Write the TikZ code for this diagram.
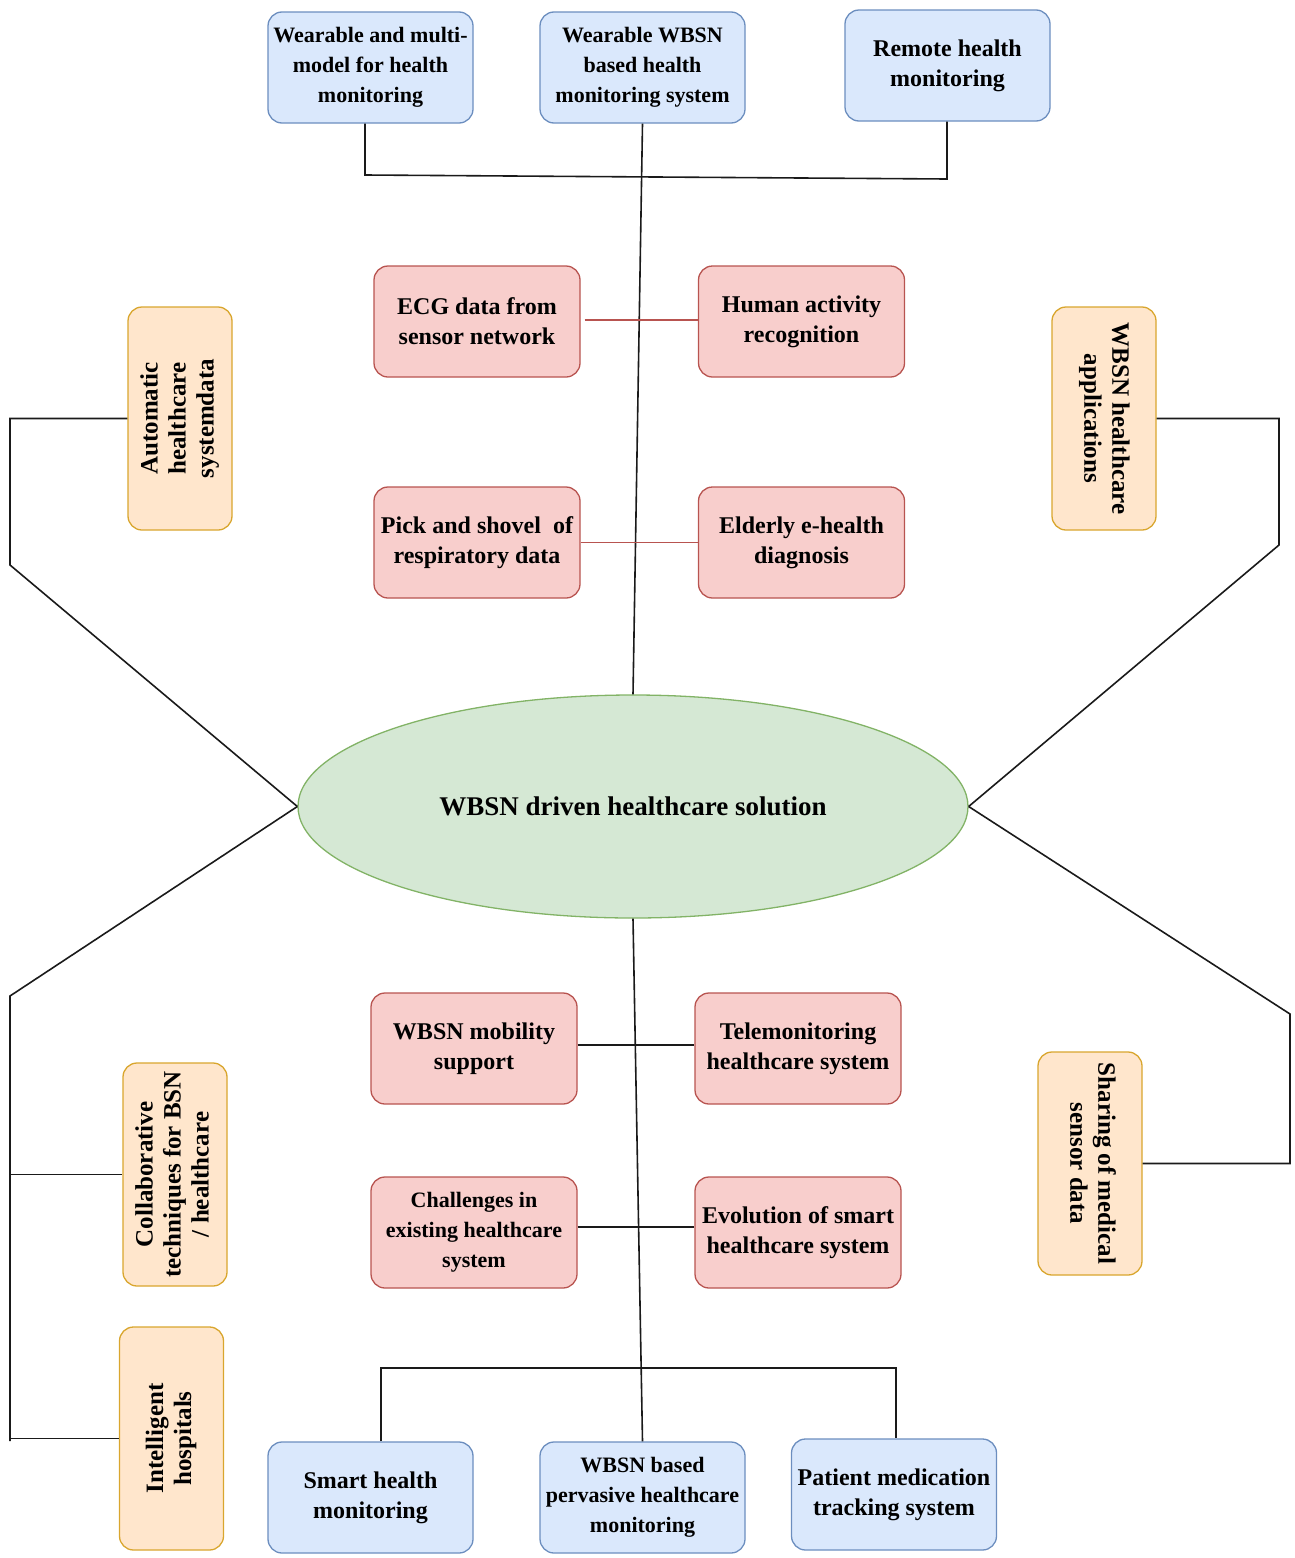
\documentclass[tikz,border=0pt]{standalone}
\usepackage{fontspec}
\setmainfont{Liberation Serif}
\usetikzlibrary{shapes.geometric}
\definecolor{bluefill}{HTML}{DAE8FC}
\definecolor{blueline}{HTML}{6C8EBF}
\definecolor{redfill}{HTML}{F8CECC}
\definecolor{redline}{HTML}{B85450}
\definecolor{orangefill}{HTML}{FFE6CC}
\definecolor{orangeline}{HTML}{D9A62E}
\definecolor{greenfill}{HTML}{D5E8D4}
\definecolor{greenline}{HTML}{82B366}
\definecolor{wire}{HTML}{1A1A1A}
\begin{document}
\begin{tikzpicture}[x=1pt,y=-1pt,
  box/.style={rectangle, rounded corners=14pt, line width=1.3pt, align=center,
    inner sep=2pt, font=\bfseries\fontsize{24}{30}\selectfont},
  smalltext/.style={font=\bfseries\fontsize{22}{30}\selectfont},
  bluebox/.style={box, draw=blueline, fill=bluefill, minimum width=205pt, minimum height=111pt},
  redbox/.style={box, draw=redline, fill=redfill, minimum width=206pt, minimum height=111pt},
  obox/.style={box, draw=orangeline, fill=orangefill, minimum width=104pt, minimum height=223pt,
    font=\bfseries\fontsize{25}{28}\selectfont},
  hub/.style={ellipse, draw=greenline, fill=greenfill, line width=1.3pt, minimum width=670pt,
    minimum height=223pt, inner sep=0pt, font=\bfseries\fontsize{27}{32}\selectfont},
  link/.style={draw=wire, line width=1.6pt},
  redlink/.style={draw=redline, line width=1.5pt}
]
\useasboundingbox (0,0) rectangle (1294,1558);

% top row
\node[bluebox, smalltext] (B1) at (370.5,67.5) {Wearable and multi-\\model for health\\monitoring};
\node[bluebox, smalltext] (B2) at (642.5,67.5) {Wearable WBSN\\based health\\monitoring system};
\node[bluebox] (B3) at (947.5,65.5) {Remote health\\monitoring};

% upper pairs
\node[redbox] (R1) at (477,321.5) {ECG data from\\sensor network};
\node[redbox] (R2) at (801.5,321.5) {Human activity\\recognition};
\node[redbox] (R3) at (477,542.5) {Pick and shovel\ \ of\\respiratory data};
\node[redbox] (R4) at (801.5,542.5) {Elderly e-health\\diagnosis};

% central hub
\node[hub] (E) at (633,806.5) {WBSN driven healthcare solution};

% lower pairs
\node[redbox] (R5) at (474,1048.5) {WBSN mobility\\support};
\node[redbox] (R6) at (798,1048.5) {Telemonitoring\\healthcare system};
\node[redbox, smalltext] (R7) at (474,1232.5) {Challenges in\\existing healthcare\\system};
\node[redbox] (R8) at (798,1232.5) {Evolution of smart\\healthcare system};

% bottom row
\node[bluebox] (B4) at (370.5,1497.5) {Smart health\\monitoring};
\node[bluebox, smalltext] (B5) at (642.5,1497.5) {WBSN based\\pervasive healthcare\\monitoring};
\node[bluebox] (B6) at (894,1494.5) {Patient medication\\tracking system};

% side boxes
\node[obox] (O1) at (180,418.5) {\rotatebox{90}{\begin{tabular}{@{}c@{}}Automatic\\healthcare\\systemdata\end{tabular}}};
\node[obox] (O2) at (1104,418.5) {\rotatebox{-90}{\begin{tabular}{@{}c@{}}WBSN healthcare\\applications\end{tabular}}};
\node[obox] (O3) at (175,1174.5) {\rotatebox{90}{\begin{tabular}{@{}c@{}}Collaborative\\techniques for BSN\\/ healthcare\end{tabular}}};
\node[obox] (O4) at (171.5,1438.5) {\rotatebox{90}{\begin{tabular}{@{}c@{}}Intelligent\\hospitals\end{tabular}}};
\node[obox] (O5) at (1090,1163.5) {\rotatebox{-90}{\begin{tabular}{@{}c@{}}Sharing of medical\\sensor data\end{tabular}}};

% bend points
\coordinate (tl) at (365,175);
\coordinate (tr) at (947,179);
\coordinate (bl) at (381,1368);
\coordinate (br) at (896,1368);
\coordinate (lt1) at (10,418.5);
\coordinate (lt2) at (10,565);
\coordinate (rt1) at (1279,418.5);
\coordinate (rt2) at (1279,545);
\coordinate (lb1) at (10,996);
\coordinate (lb2) at (10,1441);
\coordinate (lb3) at (10,1174.5);
\coordinate (lb4) at (10,1438.5);
\coordinate (rb1) at (1290,1014);
\coordinate (rb2) at (1290,1163.5);

% connectors (yshift is in canvas units: positive moves up)
\draw[link] (B1.south -| tl) -- (tl) -- (tr) -- (B3.south -| tr);
\draw[link] (B2.south) -- (E.north);
\draw[redlink] ([xshift=4, yshift=1.5]R1.east) -- ([yshift=1.5]R2.west);
\draw[redlink] (R3.east) -- (R4.west);
\draw[link] (O1.west) -- (lt1) -- (lt2) -- (E.west);
\draw[link] (O2.east) -- (rt1) -- (rt2) -- (E.east);
\draw[link] (E.west) -- (lb1) -- (lb2);
\draw[link] (lb3) -- (O3.west);
\draw[link] (lb4) -- (O4.west);
\draw[link] (E.east) -- (rb1) -- (rb2) -- (O5.east);
\draw[link] (E.south) -- (B5.north);
\draw[link] ([yshift=3.5]R5.east) -- ([yshift=3.5]R6.west);
\draw[link] ([yshift=5.5]R7.east) -- ([yshift=5.5]R8.west);
\draw[link] (B4.north -| bl) -- (bl) -- (br) -- (B6.north -| br);
\end{tikzpicture}
\end{document}
